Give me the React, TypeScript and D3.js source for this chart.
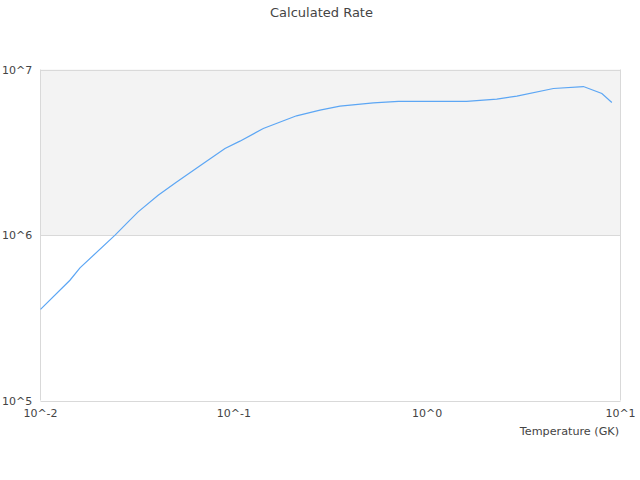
import React, { useEffect, useRef } from 'react'
import * as d3 from 'd3'

// temperature (GK) and rate
const temps = [0.01, 0.0142, 0.016, 0.0243, 0.0284, 0.032, 0.0406, 0.0506, 0.0695, 0.09, 0.1075, 0.142, 0.211, 0.279, 0.354, 0.527, 0.71, 1.6, 2.29, 2.91, 4.5, 6.43, 8.01, 9.02]
const rates = [3.55e5, 5.33e5, 6.33e5, 9.98e5, 1.2e6, 1.38e6, 1.74e6, 2.09e6, 2.7e6, 3.33e6, 3.69e6, 4.4e6, 5.25e6, 5.68e6, 6.0e6, 6.29e6, 6.41e6, 6.42e6, 6.62e6, 6.9e6, 7.68e6, 7.89e6, 7.16e6, 6.32e6]
const xTicks = [0.01, 0.1, 1, 10]
const xTickLabels = ['10^-2', '10^-1', '10^0', '10^1']
const yTicks = [1e5, 1e6, 1e7]
const yTickLabels = ['10^5', '10^6', '10^7']

const App: React.FC = () => {
  const svgRef = useRef<SVGSVGElement>(null)

  useEffect(() => {
    if (!svgRef.current) return
    const svg = d3.select(svgRef.current)
    svg.selectAll('*').remove()

    const left = 40.5, right = 620.5, top = 69.5, bottom = 400.5
    const font = 'DejaVu Sans, sans-serif'

    const x = d3.scaleLog().domain([0.01, 10]).range([left, right])
    const y = d3.scaleLog().domain([1e5, 1e7]).range([bottom, top])

    // alternating bands
    svg.append('rect')
      .attr('x', left).attr('y', y(1e7))
      .attr('width', right - left).attr('height', y(1e6) - y(1e7))
      .attr('fill', '#f3f3f3')

    // horizontal grid lines
    svg.append('g').selectAll('line')
      .data(yTicks)
      .join('line')
      .attr('x1', left).attr('x2', right)
      .attr('y1', d => Math.round(y(d)) + 0.5).attr('y2', d => Math.round(y(d)) + 0.5)
      .attr('stroke', '#d9d9d9')

    // frame sides
    svg.append('line').attr('x1', left).attr('x2', left).attr('y1', top).attr('y2', bottom).attr('stroke', '#d9d9d9')
    svg.append('line').attr('x1', right).attr('x2', right).attr('y1', top).attr('y2', bottom).attr('stroke', '#d9d9d9')

    // data line
    const pts = temps.map((t, i) => [t, rates[i]] as [number, number])
    const line = d3.line<[number, number]>()
      .x(d => x(d[0]))
      .y(d => y(d[1]))
    svg.append('path')
      .datum(pts)
      .attr('fill', 'none')
      .attr('stroke', '#5ca6f4')
      .attr('stroke-width', 1.2)
      .attr('d', line)

    // y tick labels
    svg.append('g').selectAll('text')
      .data(yTicks)
      .join('text')
      .attr('x', 2)
      .attr('y', d => y(d) + 4)
      .style('font-family', font)
      .style('font-size', '11px')
      .style('fill', '#444')
      .text((d, i) => yTickLabels[i])

    // x tick labels
    svg.append('g').selectAll('text')
      .data(xTicks)
      .join('text')
      .attr('x', d => x(d))
      .attr('y', 417)
      .attr('text-anchor', 'middle')
      .style('font-family', font)
      .style('font-size', '11px')
      .style('fill', '#444')
      .text((d, i) => xTickLabels[i])

    // axis label
    svg.append('text')
      .attr('x', 619)
      .attr('y', 435)
      .attr('text-anchor', 'end')
      .style('font-family', font)
      .style('font-size', '11.2px')
      .style('fill', '#444')
      .text('Temperature (GK)')

    // title
    svg.append('text')
      .attr('x', 321.5)
      .attr('y', 17)
      .attr('text-anchor', 'middle')
      .style('font-family', font)
      .style('font-size', '13px')
      .style('fill', '#444')
      .text('Calculated Rate')
  }, [])

  return (
    <svg
      ref={svgRef}
      width={640}
      height={480}
      style={{ position: 'absolute', left: 0, top: 0, background: '#fff' }}
    />
  )
}

export default App
